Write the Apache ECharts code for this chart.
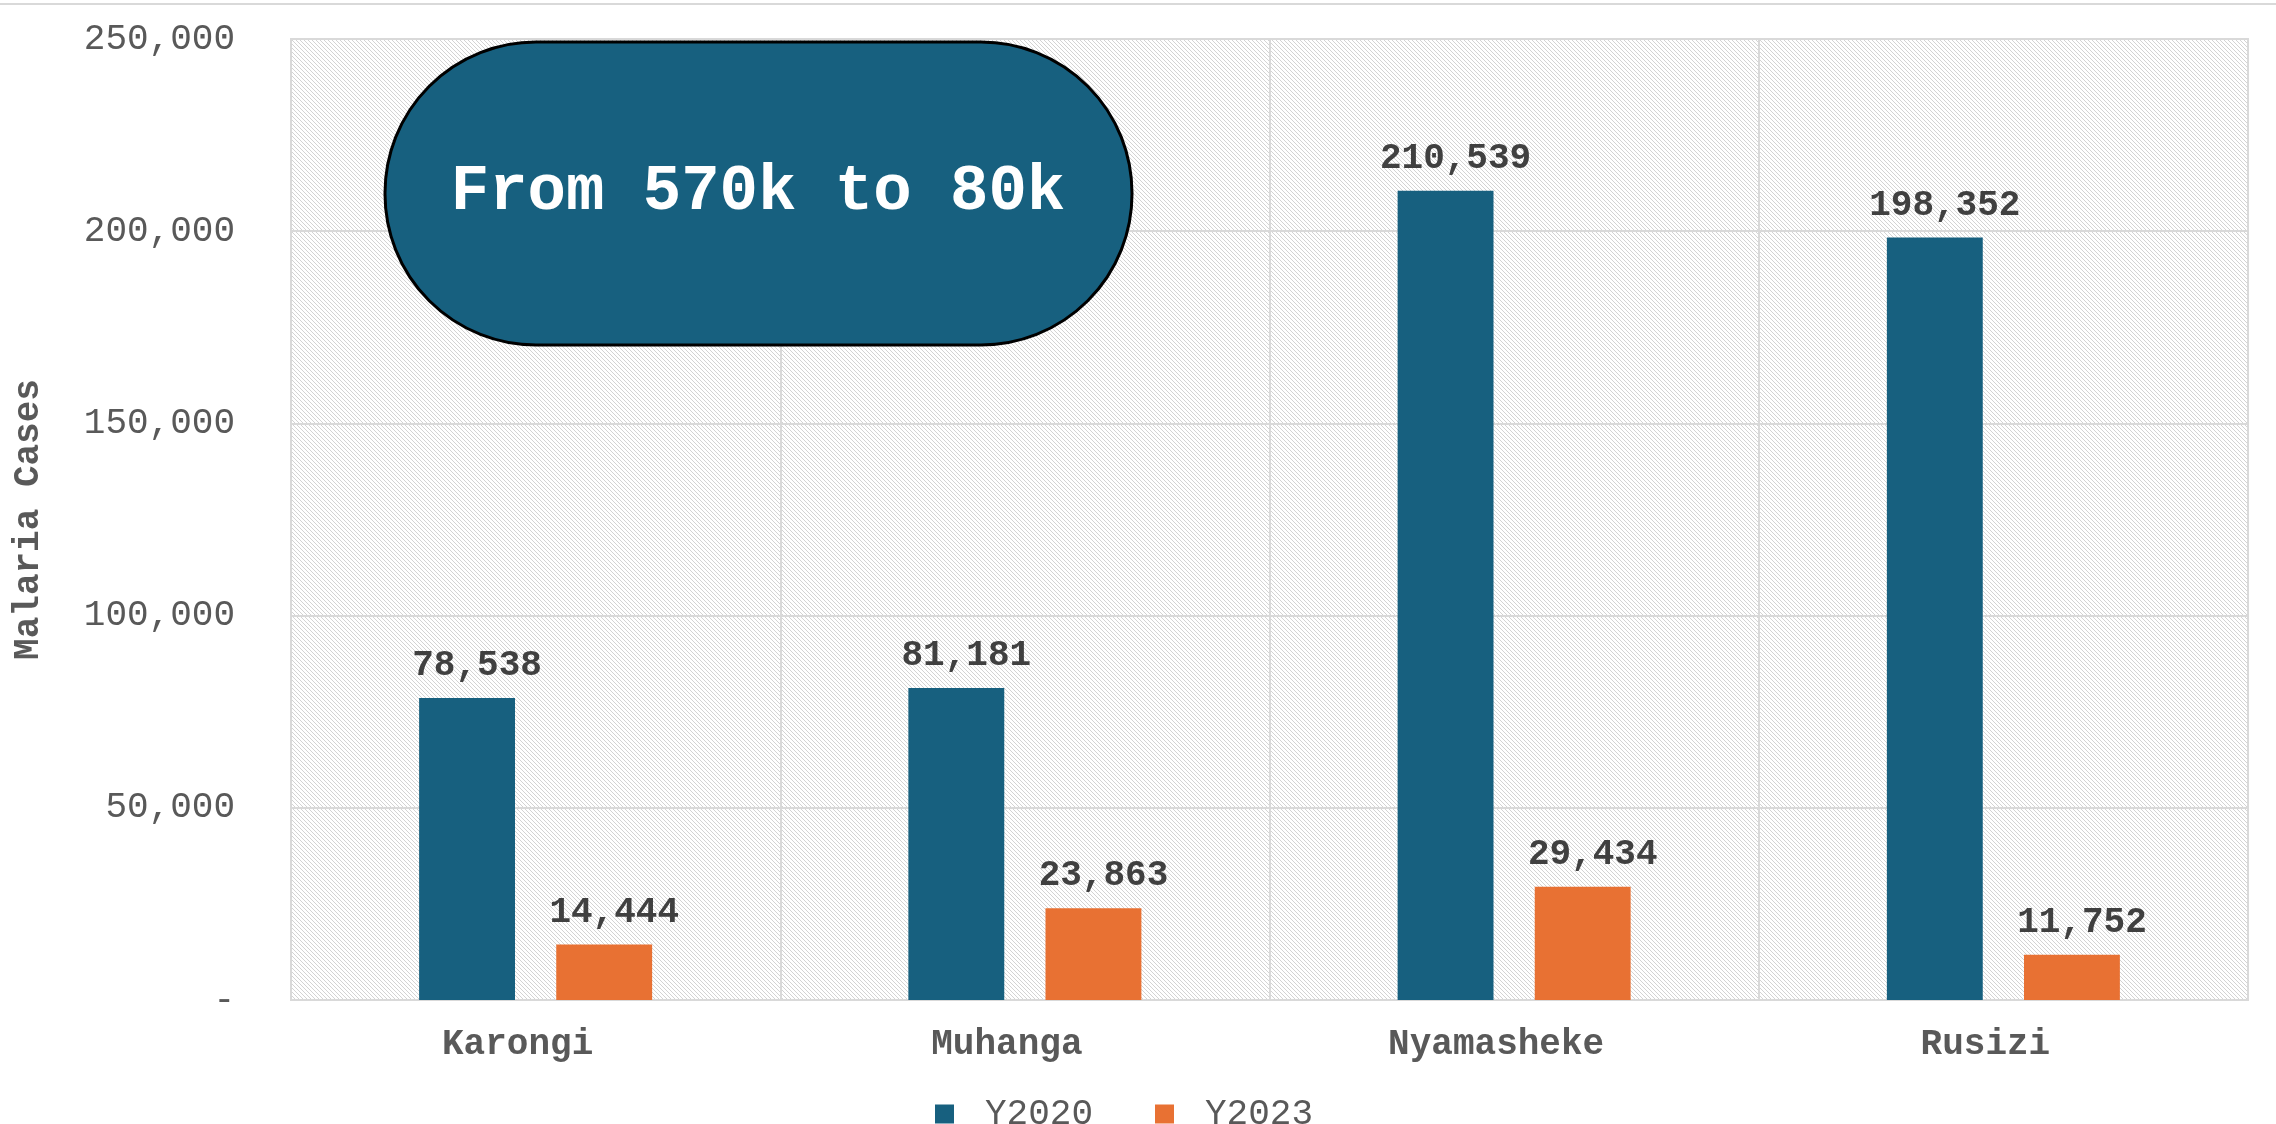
<!DOCTYPE html>
<html>
<head>
<meta charset="utf-8">
<script src="https://cdn.jsdelivr.net/npm/echarts@6/dist/echarts.min.js"></script>
<style>html,body{margin:0;padding:0;background:#fff}#c{width:2276px;height:1124px}</style>
</head>
<body>
<div id="c"></div>
<script>
const categories = ['Karongi', 'Muhanga', 'Nyamasheke', 'Rusizi'];
const y2020 = [78538, 81181, 210539, 198352];
const y2023 = [14444, 23863, 29434, 11752];
const seriesNames = ['Y2020', 'Y2023'];
const yTicks = [0, 50000, 100000, 150000, 200000, 250000];
const calloutText = 'From 570k to 80k';

const FONT = '"Courier New", "Liberation Mono", monospace';

// light downward diagonal hatch
const tile = document.createElement('canvas');
tile.width = 4; tile.height = 4;
const tctx = tile.getContext('2d');
tctx.fillStyle = '#ffffff';
tctx.fillRect(0, 0, 4, 4);
tctx.fillStyle = '#d3d3d3';
for (let i = 0; i < 4; i++) tctx.fillRect(i, i, 1, 1);

const chart = echarts.init(document.getElementById('c'), null, {renderer: 'canvas'});
const fmt = v => v === 0 ? '-' : v.toLocaleString('en-US');

const labelStyle = {
  show: true, position: 'top', distance: 14, offset: [10, 0],
  fontFamily: FONT, fontSize: 36, fontWeight: 'bold', color: '#404040',
  formatter: p => fmt(p.value)
};

chart.setOption({
  animation: false,
  backgroundColor: '#ffffff',
  grid: {
    left: 291, right: 28, top: 39, bottom: 124,
    show: true,
    borderColor: '#d9d9d9', borderWidth: 2,
    backgroundColor: {image: tile, repeat: 'repeat'}
  },
  legend: {
    data: seriesNames,
    left: 930, top: 1091,
    itemWidth: 19, itemHeight: 19,
    itemGap: 62,
    icon: 'rect',
    textStyle: {fontFamily: FONT, fontSize: 36, color: '#595959', lineHeight: 36, padding: [0, 0, 0, 26]}
  },
  xAxis: {
    type: 'category',
    data: categories,
    axisLine: {show: true, lineStyle: {color: '#d9d9d9', width: 2}},
    axisTick: {show: false},
    splitLine: {show: true, lineStyle: {color: '#d9d9d9', width: 2}},
    axisLabel: {fontFamily: FONT, fontSize: 36, fontWeight: 'bold', color: '#595959', margin: 27, padding: [0, 36, 0, 0]}
  },
  yAxis: {
    type: 'value',
    min: yTicks[0], max: yTicks[yTicks.length - 1], interval: yTicks[1] - yTicks[0],
    name: 'Malaria Cases',
    nameLocation: 'middle',
    nameGap: 244,
    nameTextStyle: {fontFamily: FONT, fontSize: 36, fontWeight: 'bold', color: '#595959'},
    axisLine: {show: false},
    axisTick: {show: false},
    splitLine: {show: true, lineStyle: {color: '#d9d9d9', width: 2}},
    axisLabel: {fontFamily: FONT, fontSize: 36, color: '#595959', margin: 56, formatter: fmt}
  },
  series: [
    {
      name: seriesNames[0], type: 'bar', data: y2020,
      barWidth: '19.6%', barGap: '43%',
      itemStyle: {color: '#17607f'},
      label: labelStyle
    },
    {
      name: seriesNames[1], type: 'bar', data: y2023,
      barWidth: '19.6%', barGap: '43%',
      itemStyle: {color: '#e87133'},
      label: labelStyle
    }
  ],
  graphic: [
    {type: 'line', z: 10, shape: {x1: 0, y1: 4, x2: 2276, y2: 4}, style: {stroke: '#d9d9d9', lineWidth: 2}},
    {type: 'rect', z: 100, shape: {x: 385, y: 42, width: 747, height: 303, r: 151}, style: {fill: '#17607f', stroke: '#000000', lineWidth: 3}},
    {type: 'text', z: 101, x: 758, y: 193, style: {text: calloutText, fill: '#ffffff', fontFamily: FONT, fontSize: 64, fontWeight: 'bold', align: 'center', verticalAlign: 'middle'}}
  ]
});
</script>
</body>
</html>
